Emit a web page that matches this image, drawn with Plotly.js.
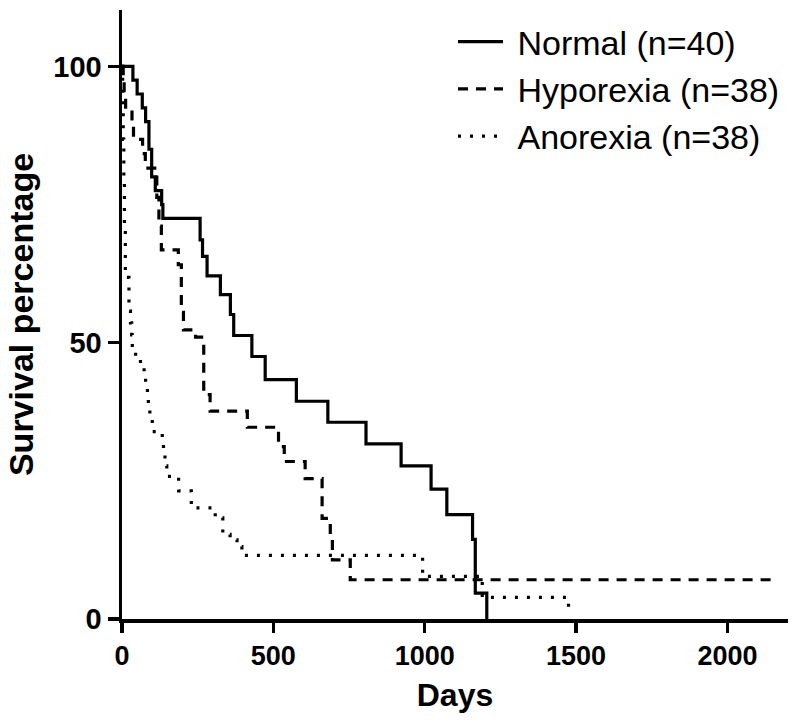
<!DOCTYPE html>
<html>
<head>
<meta charset="utf-8">
<script src="https://cdn.plot.ly/plotly-3.0.1.min.js"></script>
<style>html,body{margin:0;padding:0;background:#fff;}#chart{width:800px;height:725px;}</style>
</head>
<body>
<div id="chart"></div>
<script>
// Kaplan-Meier step data (day of change, survival % after change)
var normalDays = [0, 36, 50, 67, 78, 89, 98, 110, 131, 135, 258, 266, 281, 325, 358, 369, 429, 473, 576, 680, 806, 922, 1021, 1073, 1158, 1167, 1205];
var normalSurv = [100, 97.5, 95, 92.5, 90, 85, 80, 77.5, 75, 72.5, 68.6, 65.6, 62.1, 58.7, 55.1, 51.3, 47.5, 43.3, 39.4, 35.6, 31.7, 27.7, 23.5, 18.9, 14.4, 4.7, 0];

var hypoDays = [0, 4, 7, 12, 33, 38, 68, 77, 115, 122, 130, 186, 196, 203, 243, 270, 291, 414, 517, 536, 605, 661, 688, 695, 754, 2167];
var hypoSurv = [100, 97.4, 94.7, 92.1, 89.5, 86.8, 84.2, 81.6, 76.3, 71.1, 66.8, 64.1, 55.5, 52.3, 51.0, 40.6, 37.6, 34.7, 31.2, 28.5, 25.4, 18.2, 14.5, 10.7, 7.1, 7.1];

var anoDays = [0, 2, 4, 6, 8, 11, 23, 28, 32, 34, 45, 61, 73, 78, 84, 87, 92, 100, 133, 137, 142, 148, 187, 229, 308, 333, 357, 380, 396, 993, 1190, 1475, 1480];
var anoSurv = [100, 94.7, 86.8, 78.9, 71.1, 61.8, 55.7, 53.6, 51.4, 49.1, 47.5, 46.0, 44.2, 42.1, 40.3, 38.2, 36.4, 33.9, 31.9, 29.7, 27.7, 25.8, 23.2, 20.1, 18.3, 15.3, 14.3, 13.1, 11.5, 7.7, 3.9, 2.0, 2.0];

var seriesNames = ["Normal (n=40)", "Hyporexia (n=38)", "Anorexia (n=38)"];
var xTicks = [0, 500, 1000, 1500, 2000];
var yTicks = [0, 50, 100];

var FONT = "'Liberation Sans', Arial, sans-serif";
var GAP = "\u00A0";

var traces = [
  {x: normalDays, y: normalSurv, name: GAP + seriesNames[0], mode: "lines",
   line: {shape: "hv", color: "#000", width: 3.2, dash: "solid"}},
  {x: hypoDays, y: hypoSurv, name: GAP + seriesNames[1], mode: "lines",
   line: {shape: "hv", color: "#000", width: 3.2, dash: "10px,8px"}},
  {x: anoDays, y: anoSurv, name: GAP + seriesNames[2], mode: "lines",
   line: {shape: "hv", color: "#000", width: 3.2, dash: "3px,9px"}}
];

var layout = {
  width: 800, height: 725,
  margin: {l: 122, r: 12, t: 10, b: 106},
  paper_bgcolor: "#fff", plot_bgcolor: "#fff",
  showlegend: true,
  legend: {
    x: 0.497, xanchor: "left", y: 0.995, yanchor: "top",
    font: {family: FONT, size: 34, color: "#000"},
    bgcolor: "rgba(0,0,0,0)", itemwidth: 45, tracegroupgap: 0
  },
  xaxis: {
    range: [0, 2200], tickvals: xTicks, ticktext: xTicks.map(String),
    showline: true, linewidth: 3.5, linecolor: "#000",
    ticks: "outside", ticklen: 10, tickwidth: 3.5, tickcolor: "#000",
    showgrid: false, zeroline: false,
    tickfont: {family: FONT, size: 27, color: "#000", weight: "bold"},
    title: {text: "<b>Days</b>", font: {family: FONT, size: 32, color: "#000"}, standoff: 14}
  },
  yaxis: {
    range: [0, 110.2], tickvals: yTicks, ticktext: yTicks.map(String),
    showline: true, linewidth: 3.5, linecolor: "#000",
    ticks: "outside", ticklen: 11, tickwidth: 3.5, tickcolor: "#000",
    showgrid: false, zeroline: false,
    tickfont: {family: FONT, size: 29, color: "#000", weight: "bold"},
    title: {text: "<b>Survival percentage</b>", font: {family: FONT, size: 34, color: "#000"}, standoff: 10}
  }
};

Plotly.newPlot("chart", traces, layout, {displayModeBar: false, staticPlot: true});
</script>
</body>
</html>
